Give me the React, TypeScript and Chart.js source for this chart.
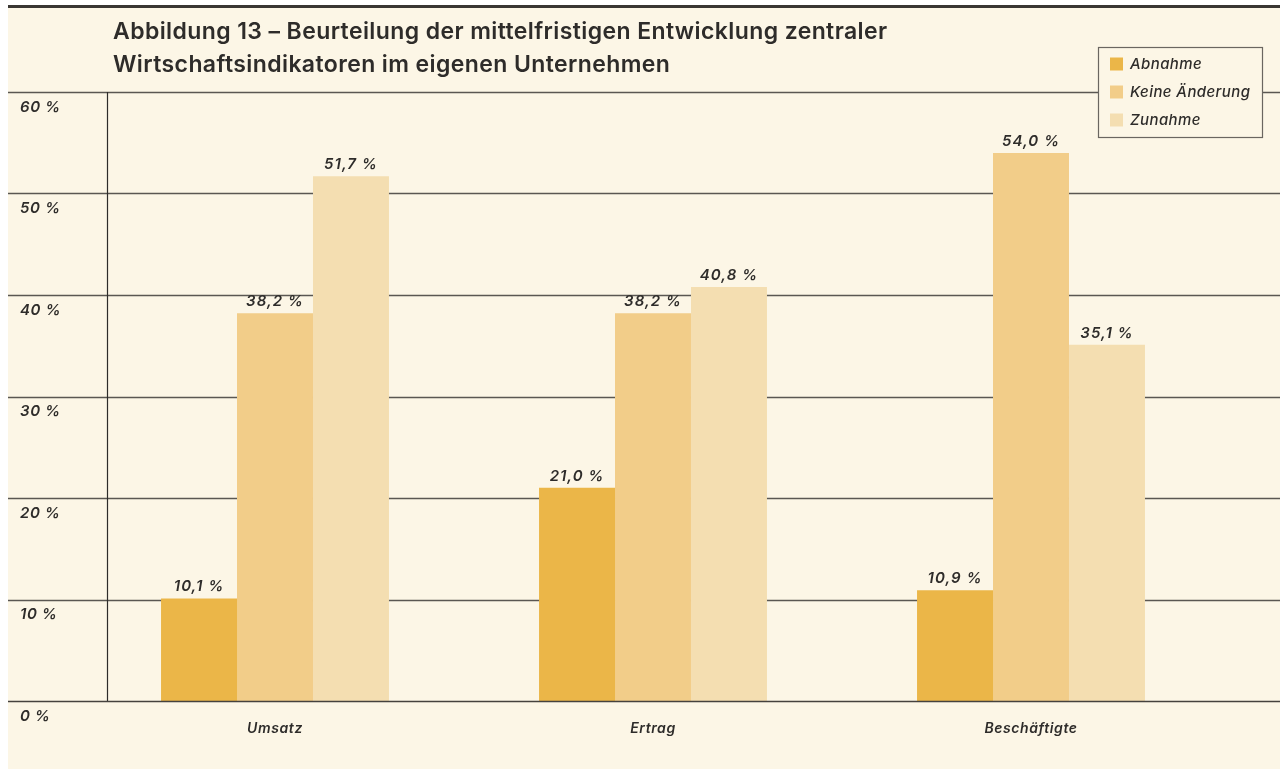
import React, { useEffect, useRef } from "react";
import { Chart, registerables } from "chart.js";
Chart.register(...registerables);

const categories = ["Umsatz", "Ertrag", "Beschäftigte"];
const seriesNames = ["Abnahme", "Keine Änderung", "Zunahme"];
const abnahme = [10.1, 21.0, 10.9];
const keineAenderung = [38.2, 38.2, 54.0];
const zunahme = [51.7, 40.8, 35.1];
const yTickValues = [0, 10, 20, 30, 40, 50, 60];
const titleLines = [
  "Abbildung 13 – Beurteilung der mittelfristigen Entwicklung zentraler",
  "Wirtschaftsindikatoren im eigenen Unternehmen",
];
const seriesColors = ["#EBB648", "#F2CD89", "#F4DEB1"];

const BG = "#FCF6E6";
const INK = "#2E2C2A";
const FONT = "Inter";
const W = 1272;
const H = 764;

const fmt = (v: number) => v.toFixed(1).replace(".", ",") + " %";

const decorPlugin = {
  id: "decor",
  beforeDraw(chart: any) {
    chart.ctx.letterSpacing = "0.6px";
  },
  beforeDatasetsDraw(chart: any) {
    const ctx = chart.ctx;
    const y = chart.scales.y;
    ctx.save();
    ctx.strokeStyle = "#5A5752";
    ctx.lineWidth = 1.3;
    yTickValues.forEach((v) => {
      if (v === 0) return;
      const py = Math.round(y.getPixelForValue(v)) + 0.5;
      ctx.beginPath();
      ctx.moveTo(0, py);
      ctx.lineTo(W, py);
      ctx.stroke();
    });
    ctx.strokeStyle = INK;
    ctx.lineWidth = 1.2;
    ctx.beginPath();
    ctx.moveTo(99.5, y.getPixelForValue(60));
    ctx.lineTo(99.5, y.getPixelForValue(0));
    ctx.stroke();
    ctx.restore();
  },
  afterDatasetsDraw(chart: any) {
    const ctx = chart.ctx;
    const y = chart.scales.y;
    ctx.save();
    ctx.strokeStyle = "#45423E";
    ctx.lineWidth = 1.6;
    const by = Math.round(y.getPixelForValue(0)) + 0.5;
    ctx.beginPath();
    ctx.moveTo(0, by);
    ctx.lineTo(W, by);
    ctx.stroke();

    ctx.fillStyle = INK;
    ctx.font = `italic 600 15px ${FONT}`;
    ctx.letterSpacing = "1px";
    ctx.textAlign = "center";
    ctx.textBaseline = "alphabetic";
    chart.data.datasets.forEach((ds: any, di: number) => {
      const meta = chart.getDatasetMeta(di);
      meta.data.forEach((bar: any, i: number) => {
        ctx.fillText(fmt(ds.data[i]), bar.x, bar.y - 7);
      });
    });

    ctx.fillStyle = "#3A3733";
    ctx.fillRect(0, 0, W, 3);

    ctx.fillStyle = INK;
    ctx.font = `600 23px ${FONT}`;
    ctx.letterSpacing = "0.4px";
    ctx.textAlign = "left";
    ctx.textBaseline = "alphabetic";
    ctx.fillText(titleLines[0], 105, 33.5);
    ctx.fillText(titleLines[1], 105, 67);

    ctx.fillStyle = BG;
    ctx.fillRect(1090, 42, 164, 90);
    ctx.strokeStyle = "#6A6660";
    ctx.lineWidth = 1.2;
    ctx.strokeRect(1090.5, 42.5, 164, 90);
    ctx.font = `italic 500 15px ${FONT}`;
    ctx.letterSpacing = "0.4px";
    ctx.textBaseline = "middle";
    chart.data.datasets.forEach((ds: any, di: number) => {
      const cy = 59 + di * 28;
      ctx.fillStyle = ds.backgroundColor;
      ctx.fillRect(1102, cy - 6.5, 13, 13);
      ctx.fillStyle = INK;
      ctx.fillText(ds.label, 1122, cy);
    });
    ctx.restore();
  },
  afterDraw(chart: any) {
    chart.ctx.letterSpacing = "0px";
  },
};

export default function App() {
  const ref = useRef<HTMLCanvasElement | null>(null);
  useEffect(() => {
    if (!ref.current) return;
    const chart = new Chart(ref.current, {
      type: "bar",
      data: {
        labels: categories,
        datasets: [
          { label: seriesNames[0], data: abnahme, backgroundColor: seriesColors[0] },
          { label: seriesNames[1], data: keineAenderung, backgroundColor: seriesColors[1] },
          { label: seriesNames[2], data: zunahme, backgroundColor: seriesColors[2] },
        ],
      },
      options: {
        responsive: false,
        animation: false,
        devicePixelRatio: 1,
        layout: { padding: { left: 12, right: 60, top: 87, bottom: 28 } },
        datasets: { bar: { barPercentage: 1, categoryPercentage: 0.603 } },
        plugins: { legend: { display: false }, title: { display: false }, tooltip: { enabled: false } },
        scales: {
          x: {
            grid: { display: false, drawTicks: false },
            border: { display: false },
            ticks: { color: INK, padding: 19, font: { family: FONT, size: 14, style: "italic", weight: 600 } },
            afterFit: (s: any) => { s.height = 40; },
          },
          y: {
            min: 0,
            max: 60,
            grid: { display: false, drawTicks: false },
            border: { display: false },
            afterBuildTicks: (s: any) => { s.ticks = yTickValues.map((v) => ({ value: v })); },
            ticks: {
              color: INK,
              crossAlign: "far",
              labelOffset: 15,
              padding: 0,
              font: { family: FONT, size: 15, style: "italic", weight: 600 },
              callback: (v: any) => v + " %",
            },
            afterFit: (s: any) => { s.width = 66; },
          },
        },
      },
      plugins: [decorPlugin],
    });
    return () => chart.destroy();
  }, []);
  return (
    <div style={{ position: "absolute", left: 8, top: 5, width: W, height: H, background: BG }}>
      <canvas ref={ref} width={W} height={H} style={{ width: W, height: H, display: "block" }} />
    </div>
  );
}
